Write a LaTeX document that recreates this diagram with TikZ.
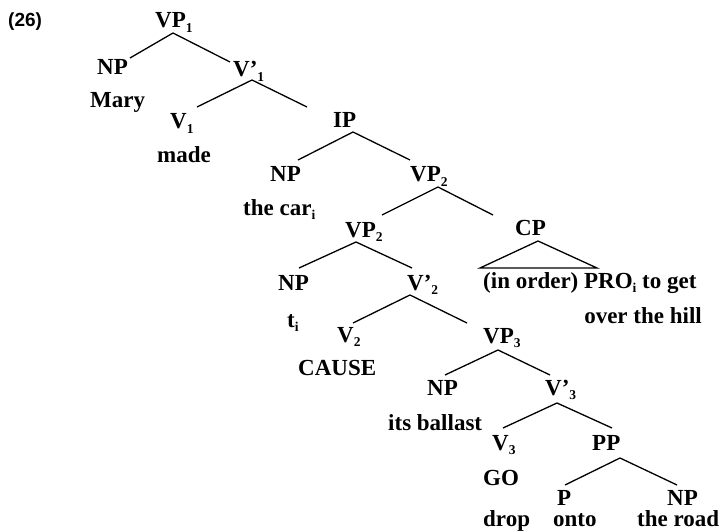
\documentclass[tikz,border=0pt]{standalone}
\usepackage{fontspec}
\setmainfont{Liberation Serif}
\newfontfamily\numfont{Liberation Sans}
\newcommand{\sbs}[1]{\raisebox{-4.5pt}{\fontsize{13.5}{13.5}\selectfont #1}}
\begin{document}
\begin{tikzpicture}[x=1pt,y=-1pt,
  lab/.style={anchor=base west, inner sep=0pt, font=\fontsize{23}{27}\selectfont\bfseries},
  branch/.style={line width=1.3pt}]
\useasboundingbox (0,0) rectangle (720,532);
\node[anchor=base west, inner sep=0pt, font=\numfont\fontsize{19}{21}\selectfont\bfseries] (num) at (8,27) {(26)};
% categories
\node[lab] (VPa) at (155,28) {VP\sbs{1}};
\node[lab] (NPa) at (97,75) {NP};
\node[lab] (Vba) at (233,77) {V’\sbs{1}};
\node[lab] (Va) at (170,129) {V\sbs{1}};
\node[lab] (IP) at (333,128) {IP};
\node[lab] (NPb) at (270,182) {NP};
\node[lab] (VPb) at (410,182) {VP\sbs{2}};
\node[lab] (VPc) at (345,237) {VP\sbs{2}};
\node[lab] (CP) at (515,235) {CP};
\node[lab] (NPc) at (278,290) {NP};
\node[lab] (Vbb) at (407,290) {V’\sbs{2}};
\node[lab] (Vb) at (337,342) {V\sbs{2}};
\node[lab] (VPd) at (483,343) {VP\sbs{3}};
\node[lab] (NPd) at (427,395) {NP};
\node[lab] (Vbc) at (545,395) {V’\sbs{3}};
\node[lab] (Vc) at (492,450) {V\sbs{3}};
\node[lab] (PP) at (592,450) {PP};
\node[lab] (P) at (557,505) {P};
\node[lab] (NPe) at (667,505) {NP};
% words
\node[lab] (w1) at (90,108) {Mary};
\node[lab] (w2) at (157,162) {made};
\node[lab] (w3) at (243,215) {the car\sbs{i}};
\node[lab] (w4) at (287,327) {t\sbs{i}};
\node[lab] (w5) at (298,375) {CAUSE};
\node[lab] (w6) at (388,430) {its ballast};
\node[lab] (w7) at (483,485) {GO};
\node[lab] (w8) at (483,526) {drop};
\node[lab] (w9) at (553,526) {onto};
\node[lab] (w10) at (637,526) {the road};
\node[lab] (cpa) at (483,288) {(in order) PRO\sbs{i} to get};
\node[lab, anchor=base east] (cpb) at (702,323) {over the hill};
% branches
\draw[branch] ([shift={(-3,-15)}]Vba.base west) -- ([shift={(18,5)}]VPa.base west) -- ([shift={(33,-17)}]NPa.base west);
\draw[branch] ([shift={(-26,-21)}]IP.base west) -- ([shift={(19,3)}]Vba.base west) -- ([shift={(27,-22)}]Va.base west);
\draw[branch] ([shift={(0,-22)}]VPb.base west) -- ([shift={(20,4)}]IP.base west) -- ([shift={(28,-22)}]NPb.base west);
\draw[branch] ([shift={(-22,-20)}]CP.base west) -- ([shift={(28,5)}]VPb.base west) -- ([shift={(37,-22)}]VPc.base west);
\draw[branch] ([shift={(5,-22)}]Vbb.base west) -- ([shift={(11,5)}]VPc.base west) -- ([shift={(21,-22)}]NPc.base west);
\draw[branch] ([shift={(-3,-20)}]cpa.base west) -- ([shift={(23,6)}]CP.base west) -- ([shift={(114,-20)}]cpa.base west) -- cycle;
\draw[branch] ([shift={(-16,-20)}]VPd.base west) -- ([shift={(3,5)}]Vbb.base west) -- ([shift={(16,-19)}]Vb.base west);
\draw[branch] ([shift={(5,-20)}]Vbc.base west) -- ([shift={(15,7)}]VPd.base west) -- ([shift={(18,-20)}]NPd.base west);
\draw[branch] ([shift={(20,-22)}]PP.base west) -- ([shift={(12,8)}]Vbc.base west) -- ([shift={(11,-22)}]Vc.base west);
\draw[branch] ([shift={(10,-20)}]NPe.base west) -- ([shift={(28,8)}]PP.base west) -- ([shift={(8,-20)}]P.base west);
\end{tikzpicture}
\end{document}
